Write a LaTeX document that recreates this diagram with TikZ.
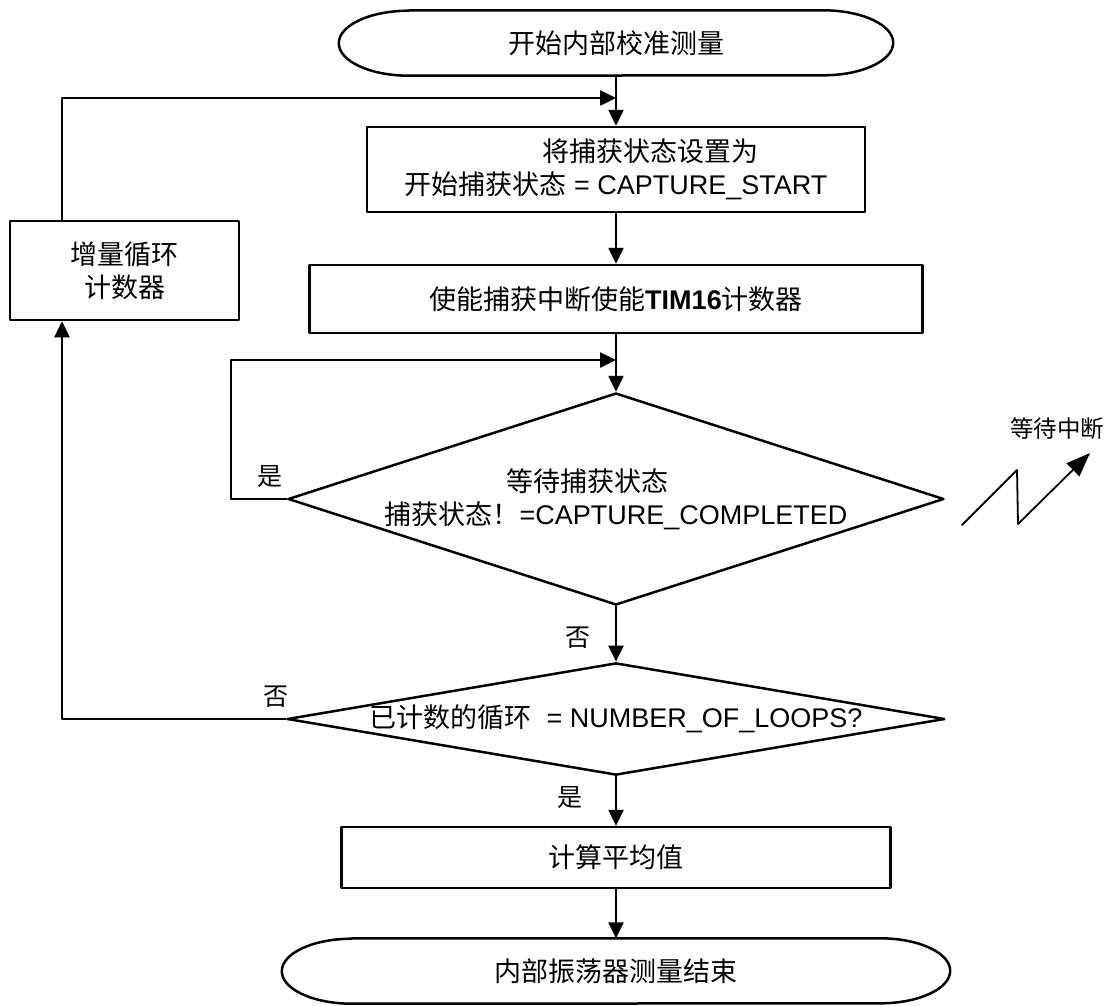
\documentclass[tikz,border=0pt]{standalone}
\usepackage{fontspec}
\setmainfont{Liberation Sans}
\newfontfamily\cjk{Noto Sans CJK SC}
\usetikzlibrary{arrows.meta,shapes.geometric}

\begin{document}
\begin{tikzpicture}[line cap=round,line join=round,>={Triangle[length=16pt,width=15pt]},x=1pt,y=-1pt,
    every node/.style={font=\fontsize{27}{33}\selectfont},
    box/.style={draw,line width=2.5pt,inner sep=0pt,align=center},
    decision/.style={diamond,draw,line width=2.5pt,inner sep=0pt,align=center},
    terminal/.style={inner sep=0pt,minimum height=65pt,
        append after command={\pgfextra{\draw[line width=2.5pt]
            (\tikzlastnode.north west) -- (\tikzlastnode.north east)
            arc[start angle=90,end angle=-90,x radius=70pt,y radius=32.5pt]
            -- (\tikzlastnode.south west)
            arc[start angle=270,end angle=90,x radius=70pt,y radius=32.5pt] -- cycle;}}},
    flow/.style={->,line width=2.5pt},
    lbl/.style={font=\fontsize{25}{30}\selectfont},
    irqline/.style={-{Triangle[length=24pt,width=18pt]},line width=1.8pt},
    irqtext/.style={font=\fontsize{23.5}{28}\selectfont}]
    \useasboundingbox (0,0) rectangle (1114,1005);
    % main column
    \node[terminal,minimum width=414pt] (start) at (616,43) {{\cjk 开始内部校准测量}};
    \node[box,minimum width=498pt,minimum height=85pt] (setcap) at (616,169.5) {\hspace*{68pt}{\cjk 将捕获状态设置为}\\{\cjk 开始捕获状态} = CAPTURE\_START};
    \node[box,minimum width=613pt,minimum height=68pt] (enable) at (616,299) {{\cjk 使能捕获中断使能}\textbf{TIM16}{\cjk 计数器}};
    \node[decision,minimum width=656pt,minimum height=212pt,aspect=3.1] (wait) at (616,499) {{\cjk 等待捕获状态}\hspace*{58pt}\\{\cjk 捕获状态！}=CAPTURE\_COMPLETED};
    \node[decision,minimum width=656pt,minimum height=112pt,aspect=5.86] (count) at (616,719) {{\cjk 已计数的循环}\ \ = NUMBER\_OF\_LOOPS?};
    \node[box,minimum width=549pt,minimum height=61pt] (avg) at (616,857.5) {{\cjk 计算平均值}};
    \node[terminal,minimum width=528pt] (stop) at (616,971) {{\cjk 内部振荡器测量结束}};
    % loop counter
    \node[box,minimum width=229pt,minimum height=99pt] (incr) at (124.5,270.5) {{\cjk 增量循环}\\{\cjk 计数器}};
    \coordinate (topjoin) at (616,98);
    \coordinate (back) at (62,98);
    \coordinate (yesjoin) at (616,360);
    % connectors
    \draw[flow] (start) -- (setcap);
    \draw[flow] (setcap) -- (enable);
    \draw[flow] (enable) -- (wait);
    \draw[flow] (wait) -- (count);
    \draw[flow] (count) -- (avg);
    \draw[flow] (avg) -- (stop);
    \draw[flow] (wait.west) -- ++(-56,0) |- (yesjoin);
    \draw[flow] (count.west) -| (back |- incr.south);
    \draw[flow] (back |- incr.north) -- (back) -- (topjoin);
    % labels
    \node[lbl] (yes1) at (270,477) {{\cjk 是}};
    \node[lbl] (no1) at (578,638) {{\cjk 否}};
    \node[lbl] (no2) at (276,697) {{\cjk 否}};
    \node[lbl] (yes2) at (570,798) {{\cjk 是}};
    % interrupt
    \coordinate (zz) at (962,525);
    \draw[irqline] (zz) -- ++(55,-55) -- ++(1,54) -- ++(72,-71);
    \node[irqtext] (irq) at (1057,429) {{\cjk 等待中断}};
\end{tikzpicture}
\end{document}
